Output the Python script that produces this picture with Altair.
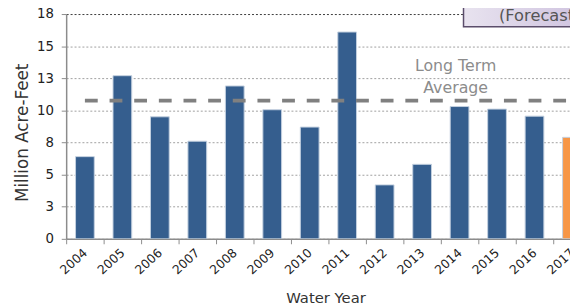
import altair as alt
import pandas as pd

# ---- data ----
years = [str(y) for y in range(2004, 2018)]
values = [6.4, 12.7, 9.5, 7.6, 11.9, 10.05, 8.7, 16.1, 4.2, 5.8, 10.3, 10.1, 9.55, 7.9]
kinds = ["Observed"] * 13 + ["Forecast"]
long_term_avg = 10.76
y_ticks = [0, 2.5, 5, 7.5, 10, 12.5, 15, 17.5]
annotation_lines = ["Long Term", "Average"]
box_label = "(Forecast"

df = pd.DataFrame({"year": years, "value": values, "kind": kinds})
one = pd.DataFrame({"k": [0]})

FONT = "DejaVu Sans"
W, H = 511, 228
STEP = 38

x_scale = alt.Scale(domain=years, range=[0, STEP * len(years)], paddingInner=0, paddingOuter=0)
y_scale = alt.Scale(domain=[0, 17.5], nice=False, zero=True)

x_axis = alt.Axis(tickBand="extent", labelAngle=-42, labelAlign="right",
                  labelBaseline="middle", labelPadding=7, labelFontSize=12.5,
                  labelColor="#222222", labelFont=FONT, tickSize=5,
                  tickColor="#8c8c8c", domainColor="#8c8c8c", domainWidth=1.5,
                  titleFont=FONT, titleFontSize=15, titleFontWeight="normal",
                  titleColor="#333333", titleX=263, titleY=53, grid=False)
y_axis = alt.Axis(values=y_ticks, format=".0f", tickSize=5, tickColor="#8c8c8c",
                  labelPadding=8, labelFontSize=13.5, labelFont=FONT,
                  labelColor="#222222", domainColor="#8c8c8c", domainWidth=1.5,
                  grid=True,
                  gridColor={"condition": {"test": "datum.value >= 17.5", "value": "#3a3a3a"},
                             "value": "#a0a0a0"},
                  gridDash=[2, 2], gridWidth=1,
                  titleFont=FONT, titleFontSize=17, titleFontWeight="normal",
                  titleColor="#333333", titleX=-44, titleY=120, titleAngle=-90,
                  titleBaseline="middle")

bars = alt.Chart(df).mark_bar(
    width=alt.RelativeBandSize(0.5), stroke="#c3d0e0", strokeWidth=1, clip=True
).encode(
    x=alt.X("year:N", scale=x_scale, sort=years, title="Water Year", axis=x_axis),
    y=alt.Y("value:Q", scale=y_scale, title="Million Acre-Feet", axis=y_axis),
    color=alt.Color("kind:N", scale=alt.Scale(domain=["Observed", "Forecast"],
                                              range=["#355e8e", "#f79646"]), legend=None),
)

avg_rule = alt.Chart(one).mark_rule(
    color="#808080", strokeWidth=4, strokeDash=[13, 12], clip=True
).encode(
    x=alt.XDatum(years[0], scale=x_scale, title="Water Year", axis=x_axis),
    x2=alt.X2Datum(years[-1]),
    y=alt.YDatum(long_term_avg, scale=y_scale, title="Million Acre-Feet", axis=y_axis),
)

ann1 = alt.Chart(one).mark_text(fontSize=16, font=FONT, color="#8c8c8c").encode(
    x=alt.value(395), y=alt.value(53), text=alt.value(annotation_lines[0]))
ann2 = alt.Chart(one).mark_text(fontSize=16, font=FONT, color="#8c8c8c").encode(
    x=alt.value(395), y=alt.value(75), text=alt.value(annotation_lines[1]))

gradient = {"gradient": "linear", "x1": 0, "x2": 1, "y1": 0, "y2": 0,
            "stops": [{"offset": 0, "color": "#e8e3ef"}, {"offset": 1, "color": "#d0c4e0"}]}
box = alt.Chart(one).mark_rect(fill=gradient, stroke="#5b4d6b", strokeWidth=1.5).encode(
    x=alt.value(403), x2=alt.value(520), y=alt.value(-20), y2=alt.value(13))
box_text = alt.Chart(one).mark_text(align="left", baseline="alphabetic", fontSize=16.5,
                                    font=FONT, color="#555555").encode(
    x=alt.value(439), y=alt.value(7), text=alt.value(box_label))

chart = alt.layer(bars, avg_rule, ann1, ann2, box, box_text).properties(
    width=W, height=H,
    autosize=alt.AutoSizeParams(type="none"),
    padding={"left": 59, "right": 0, "top": 4, "bottom": 67},
    background="white",
).configure_view(stroke=None)

chart.save("out.html", embed_options={"renderer": "svg", "actions": False})
